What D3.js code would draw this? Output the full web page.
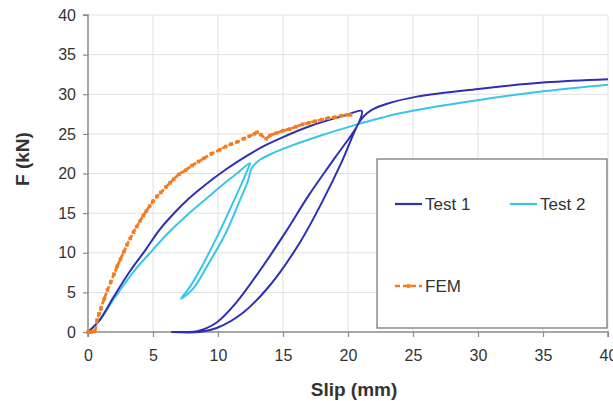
<!DOCTYPE html>
<html><head><meta charset="utf-8">
<script src="https://cdn.jsdelivr.net/npm/d3@7"></script>
<style>body{margin:0;background:#fff}svg{display:block}text{font-family:"Liberation Sans",Arial,sans-serif;fill:#333}</style>
</head><body><svg id="c" width="613" height="401"></svg>
<script>
const xTicks = [0,5,10,15,20,25,30,35,40];
const yTicks = [0,5,10,15,20,25,30,35,40];
const seriesNames = ["Test 1","Test 2","FEM"];
const test1 = [[0,0],[0.9,1.5],[2,4.5],[3.2,7.6],[4.4,10.3],[5.5,12.9],[6.8,15.3],[7.6,16.6],[8.6,18.0],[9.6,19.3],[10.6,20.5],[11.6,21.6],[12.7,22.7],[13.7,23.6],[15,24.6],[17.1,26.0],[19.9,27.4],[21.05,27.9],
 [20.8,26.3],[19.0,22.0],[17.0,17.3],[15.2,12.6],[13.2,7.7],[11.4,3.7],[9.9,1.2],[8.4,0.1],[7.4,0],[6.4,0],
 [8.6,0],[9.9,0.5],[11.9,2.4],[14,5.9],[16.3,11.3],[18.1,16.7],[19.5,21.4],[20.8,26.3],[21.2,27.2],[21.8,28.0],[23,28.8],[25.3,29.7],[30.2,30.7],[35.2,31.5],[40,31.9]];
const test2 = [[0,0],[0.9,1.5],[2,4.2],[3.5,7.6],[4.95,10.3],[6.0,12.2],[6.8,13.5],[8.0,15.3],[9.3,17.1],[10.15,18.3],[11.3,19.8],[12.46,21.3],
 [12.28,20.5],[11.4,17.2],[10.1,12.6],[8.8,8.4],[7.8,5.6],[7.15,4.2],
 [8.05,5.4],[9.3,8.7],[10.6,12.5],[11.6,16.3],[12.3,19.05],[12.6,20.7],[13.2,21.7],[14,22.4],[15,23.1],[17.1,24.35],[20.7,26.2],[22.5,27.0],[24,27.6],[30.2,29.3],[35.2,30.4],[40,31.2]];
const fem = [[0,0],[0.25,0],[0.5,0.1],[0.7,1.5],[0.85,2.3],[1.0,3.0],[1.25,4.2],[1.5,5.3],[1.75,6.3],[2.0,7.3],[2.25,8.3],[2.5,9.2],[2.75,10.1],[3.0,11.0],[3.25,11.8],[3.5,12.6],[3.75,13.3],[4.0,14.0],[4.25,14.7],[4.5,15.3],[4.75,15.9],[5.0,16.5],[5.3,17.1],[5.6,17.6],[6.0,18.3],[6.3,18.8],[6.6,19.3],[7.0,19.9],[7.5,20.4],[8.0,21.0],[8.5,21.5],[8.9,21.9],[9.5,22.5],[10.15,23.0],[10.6,23.4],[11.0,23.7],[11.5,24.0],[12.0,24.4],[12.4,24.7],[12.8,25.0],[13.0,25.2],[13.3,24.9],[13.7,24.4],[14.0,24.8],[14.5,25.1],[15,25.4],[15.5,25.6],[16,25.9],[16.5,26.2],[17,26.4],[17.5,26.6],[18,26.8],[18.5,27.0],[19,27.1],[19.5,27.3],[19.9,27.4],[20.2,27.4]];

const svg = d3.select("#c");
const x = d3.scaleLinear().domain([0,40]).range([88,608]);
const y = d3.scaleLinear().domain([0,40]).range([332,15]);
const colors = {t1:"#2f2fb4", t2:"#36c6e8", fem:"#f47c20", axis:"#8a8a8a", grid:"#e0e0e0"};

// grid
svg.append("g").selectAll("line.v").data(xTicks.slice(1)).join("line")
  .attr("x1",d=>x(d)).attr("x2",d=>x(d)).attr("y1",y(0)).attr("y2",y(40))
  .attr("stroke",colors.grid).attr("stroke-width",1);
svg.append("g").selectAll("line.h").data(yTicks.slice(1)).join("line")
  .attr("x1",x(0)).attr("x2",x(40)).attr("y1",d=>y(d)).attr("y2",d=>y(d))
  .attr("stroke",colors.grid).attr("stroke-width",1);

// axes
const yAxis = svg.append("g").attr("transform",`translate(${x(0)},0)`)
  .call(d3.axisLeft(y).tickValues(yTicks).tickSize(5).tickPadding(7));
const xAxis = svg.append("g").attr("transform",`translate(0,${y(0)})`)
  .call(d3.axisBottom(x).tickValues(xTicks).tickSize(5).tickPadding(13));
[yAxis,xAxis].forEach(g=>{
  g.select(".domain").attr("stroke",colors.axis).attr("stroke-width",1.5);
  g.selectAll(".tick line").attr("stroke",colors.axis).attr("stroke-width",1.2);
  g.selectAll(".tick text").attr("font-size",16).attr("fill","#333")
   .attr("font-family","Liberation Sans, Arial, sans-serif");
});
yAxis.select(".domain").attr("d",`M-5,${y(40)}H0V${y(0)}`);
xAxis.select(".domain").attr("d",`M${x(0)},5V0H${x(40)}V5`);

// lines
const line = d3.line().x(d=>x(d[0])).y(d=>y(d[1])).curve(d3.curveCatmullRom.alpha(0.5));
svg.append("path").datum(test2).attr("d",line).attr("fill","none")
  .attr("stroke",colors.t2).attr("stroke-width",2);
svg.append("path").datum(test1).attr("d",line).attr("fill","none")
  .attr("stroke",colors.t1).attr("stroke-width",2);
svg.append("path").datum(fem).attr("d",line).attr("fill","none")
  .attr("stroke",colors.fem).attr("stroke-width",2.8).attr("stroke-dasharray","5,2");
svg.append("g").selectAll("rect").data(fem).join("rect")
  .attr("x",d=>x(d[0])-1.8).attr("y",d=>y(d[1])-1.8).attr("width",3.6).attr("height",3.6)
  .attr("fill",colors.fem);

// legend
const lg = svg.append("g");
lg.append("rect").attr("x",377).attr("y",159).attr("width",230).attr("height",169)
  .attr("fill","#fff").attr("stroke","#7a7a7a").attr("stroke-width",1.3);
const legItems = [
  {name:seriesNames[0], c:colors.t1, lx:395, ly:204},
  {name:seriesNames[1], c:colors.t2, lx:510, ly:204},
  {name:seriesNames[2], c:colors.fem, lx:395, ly:286, dash:true}
];
legItems.forEach(it=>{
  lg.append("line").attr("x1",it.lx).attr("x2",it.lx+27).attr("y1",it.ly).attr("y2",it.ly)
    .attr("stroke",it.c).attr("stroke-width",it.dash?2.6:2.2)
    .attr("stroke-dasharray",it.dash?"5,3":null);
  if(it.dash) lg.append("rect").attr("x",it.lx+12).attr("y",it.ly-1.8).attr("width",3.6).attr("height",3.6).attr("fill",it.c);
  lg.append("text").attr("x",it.lx+30).attr("y",it.ly).attr("dy","0.36em")
    .attr("font-size",17).text(it.name);
});

// titles
svg.append("text").attr("x",354).attr("y",396).attr("text-anchor","middle")
  .attr("font-size",19).attr("font-weight","bold").text("Slip (mm)");
svg.append("text").attr("transform","translate(29,159) rotate(-90)").attr("text-anchor","middle")
  .attr("font-size",19).attr("font-weight","bold").text("F (kN)");
</script></body></html>
